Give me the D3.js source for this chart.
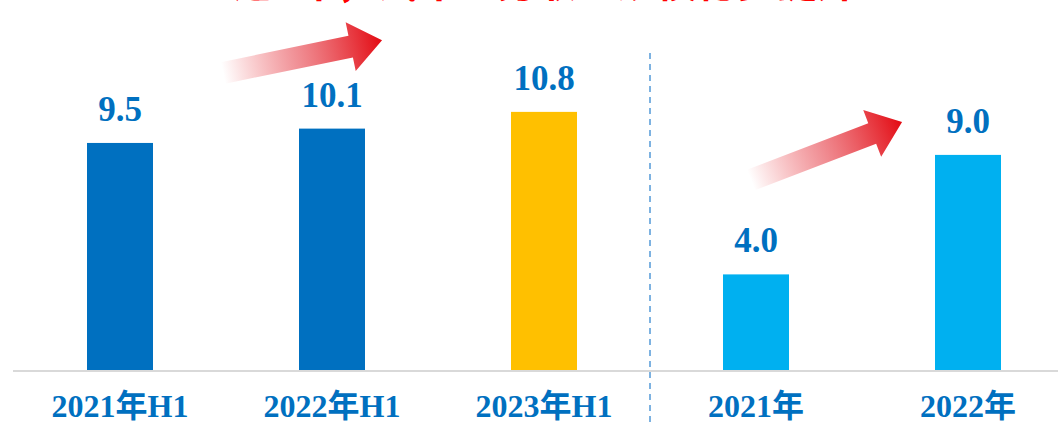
<!DOCTYPE html>
<html>
<head>
<meta charset="utf-8">
<script src="https://cdn.jsdelivr.net/npm/d3@7"></script>
<style>
  html, body { margin: 0; padding: 0; background: #fff; }
  svg { display: block; }
</style>
</head>
<body>
<svg id="chart" width="1058" height="427"></svg>
<script>
// ---- data ----
const categories = ["2021年H1", "2022年H1", "2023年H1", "2021年", "2022年"];
const values = [9.5, 10.1, 10.8, 4.0, 9.0];
const valueLabels = ["9.5", "10.1", "10.8", "4.0", "9.0"];
const barColors = ["#0070C0", "#0070C0", "#FFC000", "#00B0F0", "#00B0F0"];
const titleText = "近3年，汽车业务收入规模稳步提升";
// arrows: from (fractional category index, value) to (fractional category index, value)
const arrowFrom = [[0.486, 12.43], [2.976, 7.95]];
const arrowTo = [[1.236, 13.8], [3.689, 10.38]];

const W = 1058, H = 427;
const svg = d3.select("#chart");

const x = d3.scalePoint().domain(d3.range(categories.length)).range([14, 1074]).padding(0.5);
const y = d3.scaleLinear().domain([0, 10]).range([370, 131]);
const barW = 66;
const step = x.step();

// title (cut off at top, as in the reference)
svg.append("text")
  .attr("x", 545).attr("y", -3)
  .attr("text-anchor", "middle")
  .attr("font-family", "'Noto Sans CJK SC', sans-serif")
  .attr("font-weight", 700)
  .attr("font-size", 40)
  .attr("fill", "#FF0000")
  .text(titleText);

// axis baseline
svg.append("line")
  .attr("x1", 13).attr("x2", W)
  .attr("y1", y(0) + 1).attr("y2", y(0) + 1)
  .attr("stroke", "#D9D9D9").attr("stroke-width", 2);

// bars
svg.selectAll("rect.bar").data(values).join("rect")
  .attr("class", "bar")
  .attr("x", (d, i) => x(i) - barW / 2)
  .attr("width", barW)
  .attr("y", d => y(d))
  .attr("height", d => y(0) - y(d))
  .attr("fill", (d, i) => barColors[i]);

// value labels
svg.selectAll("text.val").data(values).join("text")
  .attr("class", "val")
  .attr("x", (d, i) => x(i))
  .attr("y", d => y(d) - 22)
  .attr("text-anchor", "middle")
  .attr("font-family", "'Liberation Serif', serif")
  .attr("font-weight", 700)
  .attr("font-size", 35)
  .attr("fill", "#0070C0")
  .text((d, i) => valueLabels[i]);

// category labels
svg.selectAll("text.cat").data(categories).join("text")
  .attr("class", "cat")
  .attr("x", (d, i) => x(i))
  .attr("y", 417)
  .attr("text-anchor", "middle")
  .attr("font-family", "'Liberation Serif', 'Noto Sans CJK SC', serif")
  .attr("font-weight", 700)
  .attr("font-size", 32)
  .attr("fill", "#0070C0")
  .text(d => d);

// dashed separator between groups
const sepX = (x(2) + x(3)) / 2;
svg.append("line")
  .attr("x1", sepX).attr("x2", sepX)
  .attr("y1", 53).attr("y2", 427)
  .attr("stroke", "#7DB2E1").attr("stroke-width", 2)
  .attr("stroke-dasharray", "6,5");

// gradient arrows
const defs = svg.append("defs");
const grad = defs.append("linearGradient")
  .attr("id", "arrowGrad")
  .attr("x1", "0").attr("y1", "0").attr("x2", "1").attr("y2", "0");
grad.append("stop").attr("offset", "0").attr("stop-color", "#E8242B").attr("stop-opacity", 0);
grad.append("stop").attr("offset", "0.45").attr("stop-color", "#E53A44").attr("stop-opacity", 0.55);
grad.append("stop").attr("offset", "1").attr("stop-color", "#E30A12").attr("stop-opacity", 1);

const xi = v => x(0) + v * step;

arrowFrom.forEach((f, k) => {
  const t = arrowTo[k];
  const x0 = xi(f[0]), y0 = y(f[1]);
  const x1 = xi(t[0]), y1 = y(t[1]);
  const L = Math.hypot(x1 - x0, y1 - y0);
  const ang = Math.atan2(y1 - y0, x1 - x0) * 180 / Math.PI;
  const sw = 11, hw = 25, hl = 32;
  const p = d3.path();
  p.moveTo(0, -sw);
  p.lineTo(L - hl, -sw);
  p.lineTo(L - hl, -hw);
  p.lineTo(L, 0);
  p.lineTo(L - hl, hw);
  p.lineTo(L - hl, sw);
  p.lineTo(0, sw);
  p.closePath();
  svg.append("path")
    .attr("d", p.toString())
    .attr("transform", `translate(${x0},${y0}) rotate(${ang})`)
    .attr("fill", "url(#arrowGrad)");
});
</script>
</body>
</html>
